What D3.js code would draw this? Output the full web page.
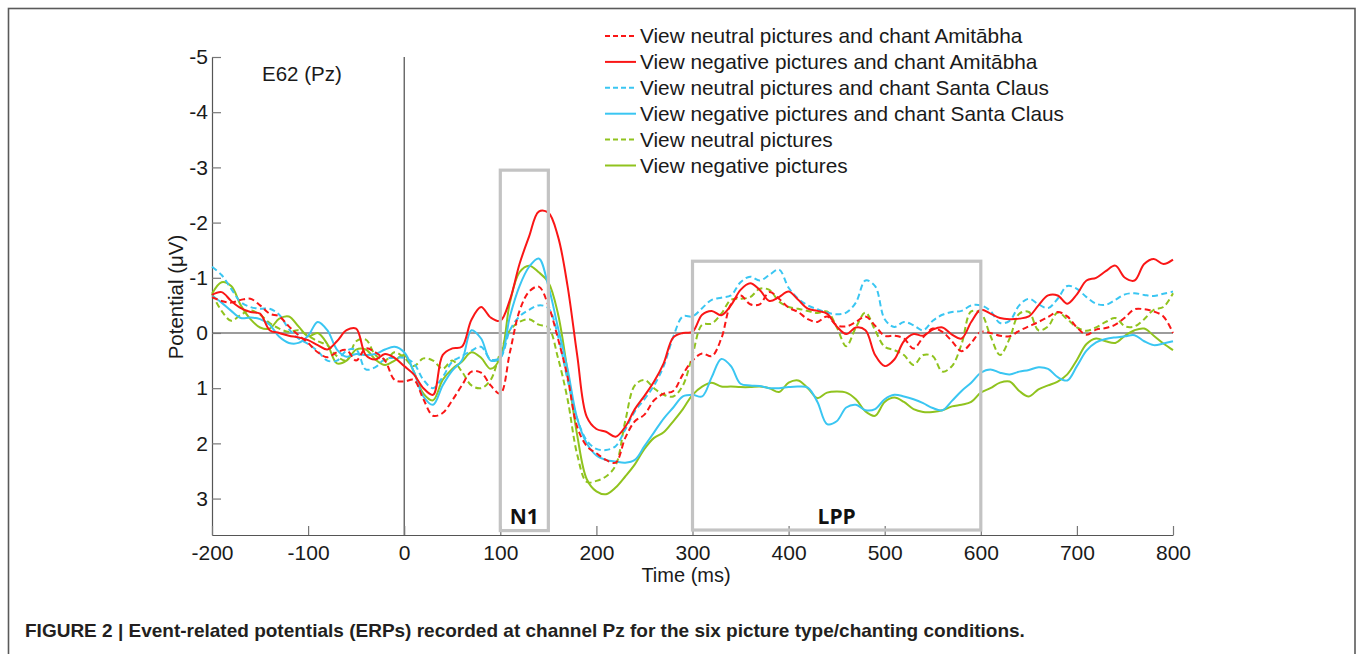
<!DOCTYPE html>
<html><head><meta charset="utf-8">
<script src="https://cdn.jsdelivr.net/npm/d3@7"></script>
<style>
html,body{margin:0;padding:0;background:#fff;}
svg{display:block;}
text{font-family:"Liberation Sans",Arial,Helvetica,sans-serif;}
</style></head><body>
<svg id="chart" width="1357" height="654"></svg>
<script>
// sample times (ms)
const timesMs = [-200,-190,-180,-170,-160,-150,-140,-130,-120,-110,-100,-90,-80,-70,-60,-50,-40,-30,-20,-10,
0,10,20,30,40,50,60,70,80,90,100,110,120,130,140,150,160,170,180,190,200,210,220,230,240,250,260,270,280,290,
300,310,320,330,340,350,360,370,380,390,400,410,420,430,440,450,460,470,480,490,500,510,520,530,540,550,560,570,580,590,
600,610,620,630,640,650,660,670,680,690,700,710,720,730,740,750,760,770,780,790,800];

// potentials (µV) per condition
const neuAmitabha = [-0.65,-0.58,-0.55,-0.6,-0.62,-0.5,-0.35,-0.3,-0.12,0.04,0.18,0.35,0.44,0.35,0.31,0.5,0.28,0.35,0.5,0.85,
0.88,0.85,1.2,1.5,1.45,1.22,0.95,0.7,0.72,0.95,1.1,0.35,-0.4,-0.75,-0.84,-0.5,0.1,0.8,1.7,2.05,2.18,2.3,2.35,1.9,1.6,1.48,1.22,1.1,1.05,0.75,
0.5,0.37,0.42,0.1,-0.52,-0.68,-0.52,-0.52,-0.74,-0.62,-0.46,-0.38,-0.25,-0.2,-0.3,-0.14,-0.12,-0.2,-0.3,-0.13,0.05,0.05,0.1,0.28,0.08,-0.08,-0.02,0.15,0.33,0.18,
-0.02,0.0,0.05,0.06,-0.04,-0.12,-0.2,-0.29,-0.38,-0.3,-0.1,0.03,-0.06,-0.09,-0.15,-0.28,-0.43,-0.43,-0.39,-0.3,0.0];

const negAmitabha = [-0.69,-0.74,-0.58,-0.45,-0.38,-0.35,-0.05,0.0,0.05,0.08,0.13,0.22,0.3,0.15,-0.05,-0.08,0.4,0.48,0.38,0.45,
0.6,0.75,1.0,1.12,0.4,0.28,0.25,-0.24,-0.47,-0.28,-0.22,-0.6,-1.25,-1.75,-2.2,-2.18,-1.75,-0.85,0.4,1.52,1.74,1.79,1.88,1.7,1.38,1.14,0.88,0.55,0.08,0.0,
-0.02,-0.33,-0.4,-0.32,-0.5,-0.78,-0.9,-0.78,-0.58,-0.65,-0.75,-0.6,-0.44,-0.4,-0.35,-0.12,0.02,-0.1,-0.05,0.4,0.6,0.48,0.15,0.02,0.05,-0.06,-0.1,0.03,0.1,-0.2,
-0.42,-0.35,-0.27,-0.25,-0.26,-0.3,-0.5,-0.68,-0.68,-0.53,-0.7,-0.95,-1.0,-1.12,-1.22,-1.0,-0.95,-1.25,-1.34,-1.25,-1.33];

const neuSanta = [-1.2,-1.05,-0.8,-0.56,-0.47,-0.44,-0.44,-0.33,-0.07,0.1,0.2,0.33,0.5,0.5,0.32,0.3,0.66,0.62,0.47,0.45,
0.45,0.55,0.85,1.0,0.8,0.52,0.42,0.32,0.25,0.48,0.45,-0.05,-0.3,-0.42,-0.5,-0.45,0.05,0.85,1.55,1.95,2.1,2.12,2.05,1.75,1.42,1.2,0.95,0.6,0.07,-0.3,
-0.3,-0.45,-0.6,-0.64,-0.68,-0.92,-1.02,-0.95,-1.05,-1.15,-0.82,-0.62,-0.5,-0.43,-0.37,-0.34,-0.37,-0.55,-0.95,-0.85,-0.25,-0.11,-0.2,-0.14,-0.05,-0.22,-0.33,-0.38,-0.4,-0.5,
-0.5,-0.4,-0.18,-0.22,-0.5,-0.62,-0.52,-0.45,-0.62,-0.85,-0.8,-0.65,-0.53,-0.51,-0.6,-0.7,-0.72,-0.69,-0.67,-0.71,-0.75];

const negSanta = [-0.68,-0.55,-0.4,-0.27,-0.28,-0.25,-0.15,0.07,0.18,0.18,0.05,-0.2,-0.05,0.3,0.43,0.38,0.4,0.38,0.3,0.25,
0.35,0.7,1.15,1.3,0.95,0.68,0.5,-0.05,0.1,0.5,0.45,-0.3,-0.85,-1.2,-1.35,-0.85,-0.1,0.65,1.55,2.0,2.22,2.3,2.33,2.35,2.3,2.05,1.8,1.55,1.35,1.15,
1.12,1.15,0.8,0.47,0.6,0.92,0.95,0.96,1.0,1.0,0.98,0.97,0.99,1.25,1.65,1.6,1.35,1.3,1.4,1.38,1.2,1.12,1.15,1.2,1.27,1.36,1.4,1.23,1.05,0.9,
0.72,0.66,0.72,0.75,0.7,0.67,0.62,0.65,0.8,0.86,0.6,0.32,0.17,0.11,0.08,0.06,0.04,0.15,0.22,0.19,0.15];

const neuPictures = [-0.71,-0.4,-0.22,-0.33,-0.41,-0.33,-0.18,-0.08,-0.02,-0.05,0.05,0.15,0.22,0.42,0.5,0.15,0.12,0.4,0.5,0.35,
0.45,0.6,0.46,0.5,0.65,0.5,0.7,0.95,1.0,0.85,0.35,-0.05,-0.2,-0.25,-0.15,-0.1,0.45,1.2,2.2,2.7,2.68,2.6,2.4,1.6,0.95,0.85,1.0,1.12,1.15,0.95,
0.4,-0.15,-0.17,-0.35,-0.6,-0.62,-0.65,-0.8,-0.78,-0.57,-0.47,-0.44,-0.4,-0.36,-0.39,-0.11,0.24,-0.1,-0.37,-0.05,0.25,0.31,0.4,0.58,0.4,0.42,0.7,0.6,0.2,-0.39,
-0.36,0.05,0.4,0.1,-0.35,-0.38,-0.05,-0.12,-0.37,-0.25,-0.1,-0.04,-0.1,-0.2,-0.27,-0.12,-0.12,-0.25,-0.42,-0.47,-0.72];

const negPictures = [-0.71,-0.92,-0.85,-0.5,-0.25,-0.1,-0.08,-0.26,-0.3,-0.12,0.06,0.0,0.2,0.55,0.5,0.3,0.3,0.48,0.58,0.5,
0.4,0.7,1.1,1.22,0.85,0.65,0.52,0.35,0.45,0.65,0.45,-0.55,-1.1,-1.22,-1.1,-0.92,-0.35,0.7,1.85,2.65,2.87,2.92,2.8,2.6,2.38,2.1,1.9,1.8,1.6,1.38,
1.12,0.97,0.9,0.97,0.97,0.98,0.98,0.97,1.0,1.07,0.9,0.86,1.0,1.18,1.08,1.06,1.08,1.2,1.42,1.5,1.25,1.17,1.25,1.38,1.43,1.43,1.4,1.33,1.3,1.25,
1.08,1.0,0.9,0.88,1.05,1.15,1.02,0.95,0.88,0.75,0.49,0.2,0.1,0.15,0.18,0.05,-0.05,-0.08,0.05,0.19,0.31];

const seriesLabels = [
  "View neutral pictures and chant Amit\u0101bha",
  "View negative pictures and chant Amit\u0101bha",
  "View neutral pictures and chant Santa Claus",
  "View negative pictures and chant Santa Claus",
  "View neutral pictures",
  "View negative pictures"
];
const seriesValues = [neuAmitabha, negAmitabha, neuSanta, negSanta, neuPictures, negPictures];

const xTickValues = [-200,-100,0,100,200,300,400,500,600,700,800];
const yTickValues = [-5,-4,-3,-2,-1,0,1,2,3];

const windowNames = ["N1","LPP"];
const windowStartMs = [100,300];
const windowEndMs = [150,600];
const windowTopUv = [-2.95,-1.3];
const windowBottomUv = [3.58,3.57];

// styles
const seriesColors = ["#fa1616","#fa1616","#3ac6f2","#3ac6f2","#90c31e","#90c31e"];
const seriesDash = ["6,3.5",null,"6,3.5",null,"6,3.5",null];

const svg = d3.select("#chart");

// outer frame
svg.append("rect").attr("x",8.5).attr("y",8.5).attr("width",1346.5).attr("height",720)
  .attr("fill","none").attr("stroke","#5a5a5a").attr("stroke-width",1.6);

const x = d3.scaleLinear().domain([-200,800]).range([212,1173]);
const y = d3.scaleLinear().domain([-5,3.66]).range([57,535]);

// zero lines
svg.append("line").attr("x1",x(-200)).attr("x2",x(800)).attr("y1",y(0)).attr("y2",y(0))
  .attr("stroke","#3a3a3a").attr("stroke-width",1.1);
svg.append("line").attr("x1",x(0)).attr("x2",x(0)).attr("y1",y(-5)).attr("y2",y(3.66))
  .attr("stroke","#3a3a3a").attr("stroke-width",1.1);

// axes
const yAxis = d3.axisLeft(y).tickValues(yTickValues).tickSizeInner(-9).tickSizeOuter(0).tickPadding(4)
  .tickFormat(d3.format("d"));
const gy = svg.append("g").attr("transform","translate(212,0)").call(yAxis);
const xAxis = d3.axisBottom(x).tickValues(xTickValues).tickSizeInner(-9).tickSizeOuter(0).tickPadding(10)
  .tickFormat(d3.format("d"));
const gx = svg.append("g").attr("transform","translate(0,535)").call(xAxis);
[gx,gy].forEach(g=>{
  g.select(".domain").attr("stroke","#555").attr("stroke-width",1.2);
  g.selectAll(".tick line").attr("stroke","#777").attr("stroke-width",1.2);
  g.selectAll(".tick text").attr("fill","#1a1a1a").style("font-size","21px")
    .style("font-family","'Liberation Sans',Arial,sans-serif");
});
gy.selectAll(".tick text").text(d=> d<0 ? "-"+Math.abs(d) : d);
gx.selectAll(".tick text").text(d=> d<0 ? "-"+Math.abs(d) : d);

// series lines
const line = d3.line().curve(d3.curveCatmullRom.alpha(0.5))
  .x((d,i)=>x(timesMs[i])).y(d=>y(d));
const order = [4,5,2,3,0,1];
order.forEach(k=>{
  svg.append("path").datum(seriesValues[k]).attr("d",line)
    .attr("fill","none").attr("stroke",seriesColors[k]).attr("stroke-width",2)
    .attr("stroke-dasharray",seriesDash[k]).attr("stroke-linejoin","round");
});

// time windows
windowNames.forEach((nm,i)=>{
  svg.append("rect").attr("x",x(windowStartMs[i])).attr("y",y(windowTopUv[i]))
    .attr("width",x(windowEndMs[i])-x(windowStartMs[i]))
    .attr("height",y(windowBottomUv[i])-y(windowTopUv[i]))
    .attr("fill","none").attr("stroke","#c3c3c3").attr("stroke-width",3.2);
  svg.append("text").attr("x",(x(windowStartMs[i])+x(windowEndMs[i]))/2).attr("y",524)
    .attr("text-anchor","middle").style("font-family","'Open Sans','Liberation Sans',sans-serif")
    .style("font-weight","bold").style("font-size","21px").attr("fill","#111").text(nm);
});

// channel label
svg.append("text").attr("x",262).attr("y",81).style("font-size","20.5px").attr("fill","#1a1a1a").text("E62 (Pz)");

// axis titles
svg.append("text").attr("x",686).attr("y",582).attr("text-anchor","middle").style("font-size","20px")
  .attr("fill","#1a1a1a").text("Time (ms)");
svg.append("text").attr("transform","translate(183,297) rotate(-90)").attr("text-anchor","middle")
  .style("font-size","20.5px").attr("fill","#1a1a1a").text("Potential (\u03BCV)");

// legend
const legend = svg.append("g");
seriesLabels.forEach((lab,i)=>{
  const cy = 36 + i*25.9;
  legend.append("line").attr("x1",605).attr("x2",636).attr("y1",cy).attr("y2",cy)
    .attr("stroke",seriesColors[i]).attr("stroke-width",2).attr("stroke-dasharray",seriesDash[i] ? "5,3" : null);
  legend.append("text").attr("x",640).attr("y",cy+7).style("font-size","20.8px").attr("fill","#1a1a1a").text(lab);
});

// caption
svg.append("text").attr("x",25).attr("y",637).style("font-size","19px").style("font-weight","bold")
  .attr("fill","#231f20")
  .text("FIGURE 2 | Event-related potentials (ERPs) recorded at channel Pz for the six picture type/chanting conditions.");
</script>
</body></html>
